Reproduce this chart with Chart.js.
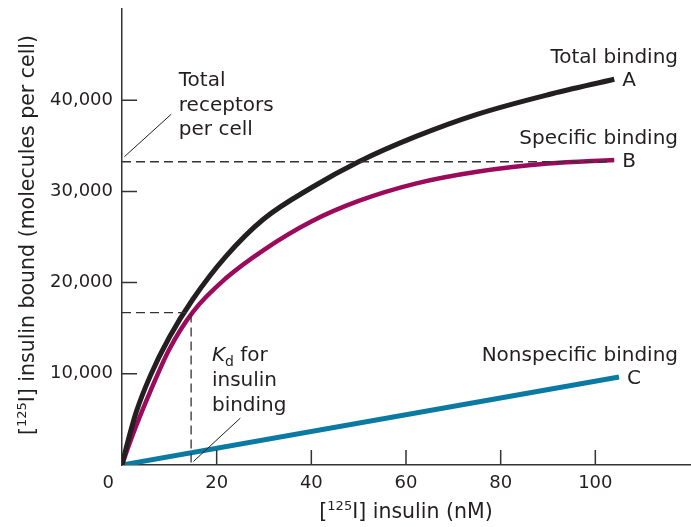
<!DOCTYPE html>
<html>
<head>
<meta charset="utf-8">
<script src="https://cdn.jsdelivr.net/npm/chart.js@4/dist/chart.umd.min.js"></script>
<style>
  html, body { margin: 0; padding: 0; background: #fff; }
  #wrap { width: 691px; height: 527px; }
</style>
</head>
<body>
<div id="wrap"><canvas id="chart"></canvas></div>
<script>
// values (insulin in nM, binding in molecules per cell)
const insulinNM = [0, 1, 3, 6, 10, 15, 22, 30, 40, 50, 62, 75, 90, 104];
const totalBinding = [0, 2100, 5800, 9800, 14000, 18200, 22900, 27000, 30400, 33250, 36000, 38450, 40600, 42300];
const specificBinding = [0, 1500, 4300, 8100, 12700, 16800, 20500, 23600, 26700, 28950, 30850, 32150, 33050, 33450];
const nonspecificNM = [0, 105];
const nonspecificBinding = [0, 9650];
const xTicks = [20, 40, 60, 80, 100];
const yTicks = [10000, 20000, 30000, 40000];
const totalReceptors = 33250;
const kdNM = 14.6;
const halfBound = 16700;

const FONT = '"DejaVu Sans", sans-serif';
const INK = '#231f20';

function pts(xs, ys) {
  return xs.map((v, i) => ({ x: v, y: ys[i] }));
}

// dashed guides, inner ticks, labels and axis titles
const notes = {
  id: 'notes',
  afterDatasetsDraw(chart) {
    const { ctx, chartArea: a, scales: { x, y } } = chart;
    ctx.save();
    ctx.strokeStyle = '#333';
    ctx.lineWidth = 1.5;
    ctx.beginPath();
    yTicks.forEach(v => {
      const py = y.getPixelForValue(v);
      ctx.moveTo(a.left, py); ctx.lineTo(a.left + 15, py);
    });
    xTicks.forEach(v => {
      const px = x.getPixelForValue(v);
      ctx.moveTo(px, a.bottom); ctx.lineTo(px, a.bottom - 15);
    });
    ctx.stroke();

    // dashed lines
    ctx.setLineDash([9, 5]);
    ctx.lineWidth = 1.3;
    ctx.beginPath();
    const ry = y.getPixelForValue(totalReceptors);
    ctx.moveTo(a.left, ry); ctx.lineTo(x.getPixelForValue(103.6), ry);
    const ky = y.getPixelForValue(halfBound), kx = x.getPixelForValue(kdNM);
    ctx.moveTo(a.left, ky); ctx.lineTo(kx, ky); ctx.lineTo(kx, a.bottom);
    ctx.stroke();
    ctx.setLineDash([]);

    // leader lines
    ctx.lineWidth = 1;
    ctx.strokeStyle = INK;
    ctx.beginPath();
    ctx.moveTo(x.getPixelForValue(0.5), y.getPixelForValue(33800));
    ctx.lineTo(x.getPixelForValue(10.4), y.getPixelForValue(38460));
    ctx.moveTo(x.getPixelForValue(15.1), y.getPixelForValue(390));
    ctx.lineTo(x.getPixelForValue(25), y.getPixelForValue(5140));
    ctx.stroke();

    ctx.fillStyle = INK;
    ctx.textBaseline = 'alphabetic';
    ctx.font = '20px ' + FONT;

    // total receptors note
    let tx = x.getPixelForValue(12), ty = y.getPixelForValue(41540);
    ['Total', 'receptors', 'per cell'].forEach((s, i) => ctx.fillText(s, tx, ty + i * 24.5));

    // Kd note
    tx = x.getPixelForValue(19); ty = y.getPixelForValue(11350);
    ctx.font = 'italic 20px ' + FONT;
    ctx.fillText('K', tx, ty);
    let w = ctx.measureText('K').width;
    ctx.font = '14px ' + FONT;
    ctx.fillText('d', tx + w, ty + 5);
    w += ctx.measureText('d').width;
    ctx.font = '20px ' + FONT;
    ctx.fillText(' for', tx + w, ty);
    ctx.fillText('insulin', tx, ty + 25);
    ctx.fillText('binding', tx, ty + 50);

    // curve end labels
    const ends = [
      ['Total binding', 'A', insulinNM[insulinNM.length - 1], totalBinding[totalBinding.length - 1]],
      ['Specific binding', 'B', insulinNM[insulinNM.length - 1], specificBinding[specificBinding.length - 1]],
      ['Nonspecific binding', 'C', nonspecificNM[1], nonspecificBinding[1]]
    ];
    ends.forEach(([name, tag, ex, ey]) => {
      const px = x.getPixelForValue(ex), py = y.getPixelForValue(ey);
      ctx.textAlign = 'left';
      ctx.fillText(tag, px + 8, py + 7);
      ctx.textAlign = 'right';
      ctx.fillText(name, a.right - 12, py - 16);
    });

    // origin label
    ctx.font = '18px ' + FONT;
    ctx.textAlign = 'right';
    ctx.textBaseline = 'middle';
    ctx.fillText('0', a.left - 8, a.bottom + 18);

    // axis titles with superscript 125
    function title(cx, cy, rot, rest) {
      ctx.save();
      ctx.translate(cx, cy);
      ctx.rotate(rot);
      ctx.textBaseline = 'alphabetic';
      ctx.textAlign = 'left';
      const big = '20.5px ' + FONT, small = '13px ' + FONT;
      ctx.font = big; const w1 = ctx.measureText('[').width;
      ctx.font = small; const w2 = ctx.measureText('125').width;
      ctx.font = big; const w3 = ctx.measureText(rest).width;
      let sx = -(w1 + w2 + w3) / 2;
      ctx.fillText('[', sx, 0); sx += w1;
      ctx.font = small; ctx.fillText('125', sx, -8); sx += w2;
      ctx.font = big; ctx.fillText(rest, sx, 0);
      ctx.restore();
    }
    title((a.left + a.right) / 2, 518, 0, 'I] insulin (nM)');
    title(34, (a.top + a.bottom) / 2 - 2, -Math.PI / 2, 'I] insulin bound (molecules per cell)');
    ctx.restore();
  }
};

new Chart(document.getElementById('chart'), {
  type: 'line',
  data: {
    datasets: [
      {
        label: 'Total binding',
        data: pts(insulinNM, totalBinding),
        borderColor: INK,
        borderWidth: 5,
        cubicInterpolationMode: 'monotone'
      },
      {
        label: 'Specific binding',
        data: pts(insulinNM, specificBinding),
        borderColor: '#9c0a5b',
        borderWidth: 4.5,
        cubicInterpolationMode: 'monotone'
      },
      {
        label: 'Nonspecific binding',
        data: pts(nonspecificNM, nonspecificBinding),
        borderColor: '#0a7aa3',
        borderWidth: 5,
        tension: 0
      }
    ]
  },
  options: {
    responsive: true,
    maintainAspectRatio: false,
    animation: false,
    layout: { padding: { top: 9, right: 1, left: 0, bottom: 0 } },
    elements: { point: { radius: 0 }, line: { borderCapStyle: 'butt', fill: false } },
    plugins: { legend: { display: false }, tooltip: { enabled: false } },
    scales: {
      x: {
        type: 'linear',
        min: 0,
        max: 120,
        afterFit: s => { s.height = 62; s.paddingLeft = 0; s.paddingRight = 0; },
        afterBuildTicks: s => { s.ticks = xTicks.map(v => ({ value: v })); },
        grid: { display: false, drawTicks: false },
        border: { color: '#333', width: 1.5 },
        ticks: { padding: 8, color: INK, maxRotation: 0, font: { family: FONT, size: 18 } }
      },
      y: {
        min: 0,
        max: 50000,
        afterFit: s => { s.width = 122; s.paddingTop = 0; s.paddingBottom = 0; },
        afterBuildTicks: s => { s.ticks = yTicks.map(v => ({ value: v })); },
        grid: { display: false, drawTicks: false },
        border: { color: '#333', width: 1.5 },
        ticks: {
          padding: 9,
          color: INK,
          font: { family: FONT, size: 18 },
          callback: v => v.toLocaleString('en-US')
        }
      }
    }
  },
  plugins: [notes]
});
</script>
</body>
</html>
